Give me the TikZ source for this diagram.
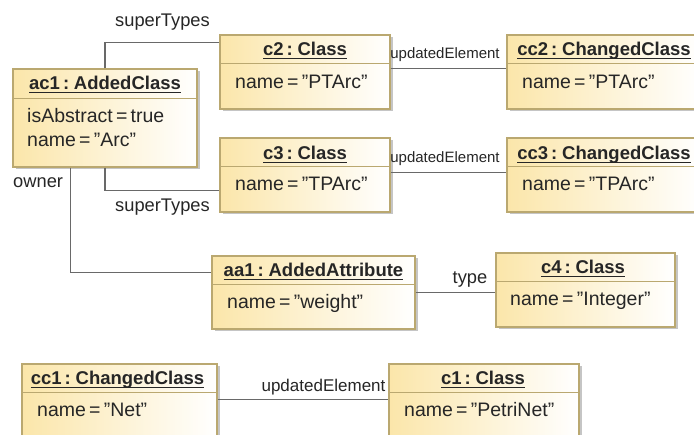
\documentclass[tikz,border=0pt]{standalone}
\usepackage{fontspec}
\setmainfont[WordSpace=0.6]{Liberation Sans}
\usetikzlibrary{calc,shadows}
\definecolor{umlfill}{RGB}{251,230,170}
\definecolor{umlborder}{RGB}{186,168,112}
\definecolor{linkc}{RGB}{105,105,105}
\definecolor{txtc}{RGB}{38,38,38}
\newcommand{\ulin}[1]{\setbox0\hbox{#1}\rlap{\rule[-3.5pt]{\wd0}{1.1pt}}\box0}
\newcommand{\qd}{\symbol{34}}
\begin{document}
\begin{tikzpicture}[x=1pt,y=-1pt,
  objbox/.style={draw=umlborder, line width=1.2pt, inner sep=0pt, left color=umlfill, right color=white,
    drop shadow={shadow xshift=2.5pt, shadow yshift=-2.5pt, fill=black!45, opacity=0.5}},
  sepline/.style={draw=umlborder, line width=1.2pt},
  ttl/.style={anchor=base, inner sep=0pt, font=\fontsize{18.5}{20}\selectfont\bfseries, text=txtc},
  attr/.style={anchor=base west, inner sep=0pt, font=\fontsize{19.5}{22}\selectfont, text=txtc},
  lbl/.style={anchor=base, inner sep=0pt, font=\fontsize{18.3}{20}\selectfont, text=txtc},
  link/.style={draw=linkc, line width=1.3pt}]

\clip (0,0) rectangle (694,435);
\fill[white] (0,0) rectangle (694,435);

% boxes
\node[objbox, minimum width=184pt, minimum height=98pt] (ac1) at (105,118) {};
\node[objbox, minimum width=170pt, minimum height=74pt] (c2) at (305,72) {};
\node[objbox, minimum width=170pt, minimum height=74pt] (c3) at (305,175) {};
\node[objbox, minimum width=194pt, minimum height=74pt] (cc2) at (604,72) {};
\node[objbox, minimum width=194pt, minimum height=74pt] (cc3) at (604,175) {};
\node[objbox, minimum width=203pt, minimum height=73pt] (aa1) at (313.5,292.5) {};
\node[objbox, minimum width=179pt, minimum height=74pt] (c4) at (585.5,290) {};
\node[objbox, minimum width=195pt, minimum height=100pt] (cc1) at (119.5,414) {};
\node[objbox, minimum width=190pt, minimum height=100pt] (c1) at (484,414) {};

% header separators
\draw[sepline] ($(ac1.north west)+(0,30)$) -- ($(ac1.north east)+(0,30)$);
\foreach \b in {c2,c3,cc2,cc3,aa1,c4,cc1,c1}
  \draw[sepline] ($(\b.north west)+(0,29)$) -- ($(\b.north east)+(0,29)$);

% titles
\node[ttl] (ac1t) at (105,89.3) {\ulin{ac1 : AddedClass}};
\node[ttl] (c2t) at (305,56) {\ulin{c2 : Class}};
\node[ttl] (c3t) at (305,159.3) {\ulin{c3 : Class}};
\node[ttl] (cc2t) at (604,56) {\ulin{cc2 : ChangedClass}};
\node[ttl] (cc3t) at (604,159.3) {\ulin{cc3 : ChangedClass}};
\node[ttl] (aa1t) at (313.5,276.7) {\ulin{aa1 : AddedAttribute}};
\node[ttl] (c4t) at (583,273.3) {\ulin{c4 : Class}};
\node[ttl] (cc1t) at (117.5,385) {\ulin{cc1 : ChangedClass}};
\node[ttl] (c1t) at (483,385) {\ulin{c1 : Class}};

% attributes
\node[attr] (ac1a) at (27,122.7) {isAbstract = true};
\node[attr] (ac1b) at (27,147) {name = \qd Arc\qd};
\node[attr] (c2a) at (235,88.3) {name = \qd PTArc\qd};
\node[attr] (c3a) at (235,190.7) {name = \qd TPArc\qd};
\node[attr] (cc2a) at (522,88.3) {name = \qd PTArc\qd};
\node[attr] (cc3a) at (522,190.7) {name = \qd TPArc\qd};
\node[attr] (aa1a) at (227,309) {name = \qd weight\qd};
\node[attr] (c4a) at (510,306) {name = \qd Integer\qd};
\node[attr] (cc1a) at (37,416.7) {name = \qd Net\qd};
\node[attr] (c1a) at (404,416.7) {name = \qd PetriNet\qd};

% connectors
\draw[link] (ac1.north) |- ($(c2.north west)+(0,8)$);
\draw[link] (ac1.south) |- ($(c3.north west)+(0,53)$);
\draw[link] ($(ac1.south west)+(58,0)$) |- ($(aa1.north west)+(0,17)$);
\draw[link] ($(c2.north east)+(0,34)$) -- ($(cc2.north west)+(0,34)$);
\draw[link] ($(c3.north east)+(0,35)$) -- ($(cc3.north west)+(0,35)$);
\draw[link] ($(aa1.north east)+(0,37)$) -- ($(c4.north west)+(0,40)$);
\draw[link] ($(cc1.north east)+(0,36)$) -- ($(c1.north west)+(0,36)$);

% connector labels
\node[lbl] (st1) at (162.5,27) {superTypes};
\node[lbl] (st2) at (162.5,212) {superTypes};
\node[lbl, anchor=base west] (own) at (13,188) {owner};
\node[lbl, font=\fontsize{15}{17}\selectfont] (ue1) at (445,59) {updatedElement};
\node[lbl, font=\fontsize{15}{17}\selectfont] (ue2) at (445,163) {updatedElement};
\node[lbl] (typ) at (470,284) {type};
\node[lbl, font=\fontsize{17}{19}\selectfont] (ue3) at (323.5,391.5) {updatedElement};
\end{tikzpicture}
\end{document}
